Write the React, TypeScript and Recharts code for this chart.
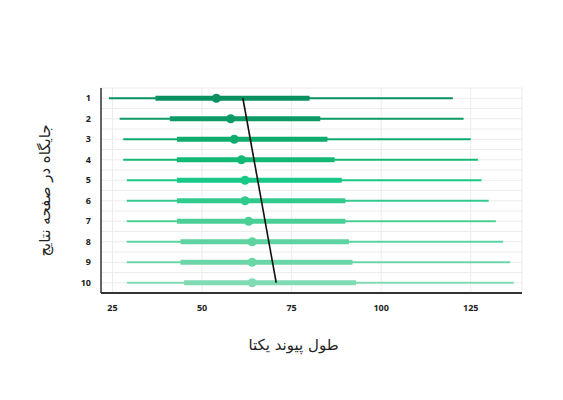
import React from 'react';
import {
  ComposedChart,
  Scatter,
  XAxis,
  YAxis,
  CartesianGrid,
  Label,
} from 'recharts';

// جایگاه ۱ تا ۱۰
const ranks = [1, 2, 3, 4, 5, 6, 7, 8, 9, 10];
const minValues = [24, 27, 28, 28, 29, 29, 29, 29, 29, 29];
const q1Values = [37, 41, 43, 43, 43, 43, 43, 44, 44, 45];
const medianValues = [54, 58, 59, 61, 62, 62, 63, 64, 64, 64];
const q3Values = [80, 83, 85, 87, 89, 90, 90, 91, 92, 93];
const maxValues = [120, 123, 125, 127, 128, 130, 132, 134, 136, 137];
const trendStart = 61.4;
const trendEnd = 70.7;

const xTicks = [25, 50, 75, 100, 125];
const yTicks = [0.5, 1, 1.5, 2, 2.5, 3, 3.5, 4, 4.5, 5, 5.5, 6, 6.5, 7, 7.5, 8, 8.5, 9, 9.5, 10, 10.5];

const rowColors = [
  '#0a9160', '#0c9b65', '#0fac6d', '#12b975', '#17c886',
  '#30cb8c', '#4ccf97', '#5cd3a0', '#6bd6a7', '#80dab3',
];

const noShape = () => <g />;
const tickFont = { fontFamily: 'Open Sans', fontWeight: 700, fontSize: 9, fill: '#222' };

export default function App() {
  const medians = ranks.map((r, i) => ({ x: medianValues[i], y: r }));
  const trend = [
    { x: trendStart, y: ranks[0] },
    { x: trendEnd, y: ranks[ranks.length - 1] },
  ];

  return (
    <div style={{ position: 'absolute', left: 0, top: 0, background: '#fff' }}>
      <ComposedChart
        width={563}
        height={400}
        margin={{ top: 88, right: 41, bottom: 77, left: 71 }}
      >
        <CartesianGrid stroke="#ececec" strokeWidth={1} />
        <XAxis
          type="number"
          dataKey="x"
          domain={[21.8, 139.3]}
          ticks={xTicks}
          tickLine={false}
          tickMargin={6}
          height={30}
          axisLine={{ stroke: '#333', strokeWidth: 2 }}
          tick={tickFont}
        >
          <Label
            value="طول پیوند یکتا"
            position="center"
            dx={-18}
            dy={37}
            style={{ fontFamily: 'DejaVu Sans', fontSize: 15, fill: '#222' }}
          />
        </XAxis>
        <YAxis
          type="number"
          dataKey="y"
          domain={[0.5, 10.5]}
          reversed
          ticks={yTicks}
          interval={0}
          tickFormatter={(v: number) => (Number.isInteger(v) ? String(v) : '')}
          tickLine={false}
          tickMargin={4}
          width={30}
          axisLine={{ stroke: '#333', strokeWidth: 1.5 }}
          tick={tickFont}
        >
          <Label
            value="جایگاه در صفحه نتایج"
            angle={-90}
            position="center"
            dx={-41}
            style={{ fontFamily: 'DejaVu Sans', fontSize: 15, fill: '#222' }}
          />
        </YAxis>

        {ranks.map((r, i) => (
          <Scatter
            key={`thin-${r}`}
            data={[{ x: minValues[i], y: r }, { x: maxValues[i], y: r }]}
            line={{ stroke: rowColors[i], strokeWidth: 2 }}
            shape={noShape}
            isAnimationActive={false}
          />
        ))}
        {ranks.map((r, i) => (
          <Scatter
            key={`thick-${r}`}
            data={[{ x: q1Values[i], y: r }, { x: q3Values[i], y: r }]}
            line={{ stroke: rowColors[i], strokeWidth: 5 }}
            shape={noShape}
            isAnimationActive={false}
          />
        ))}
        <Scatter
          data={medians}
          isAnimationActive={false}
          shape={(props: any) => (
            <circle
              cx={props.cx}
              cy={props.cy}
              r={4.5}
              fill={rowColors[props.index] ?? rowColors[0]}
            />
          )}
        />
        <Scatter
          data={trend}
          line={{ stroke: '#111', strokeWidth: 1.6 }}
          shape={noShape}
          isAnimationActive={false}
        />
      </ComposedChart>
    </div>
  );
}
